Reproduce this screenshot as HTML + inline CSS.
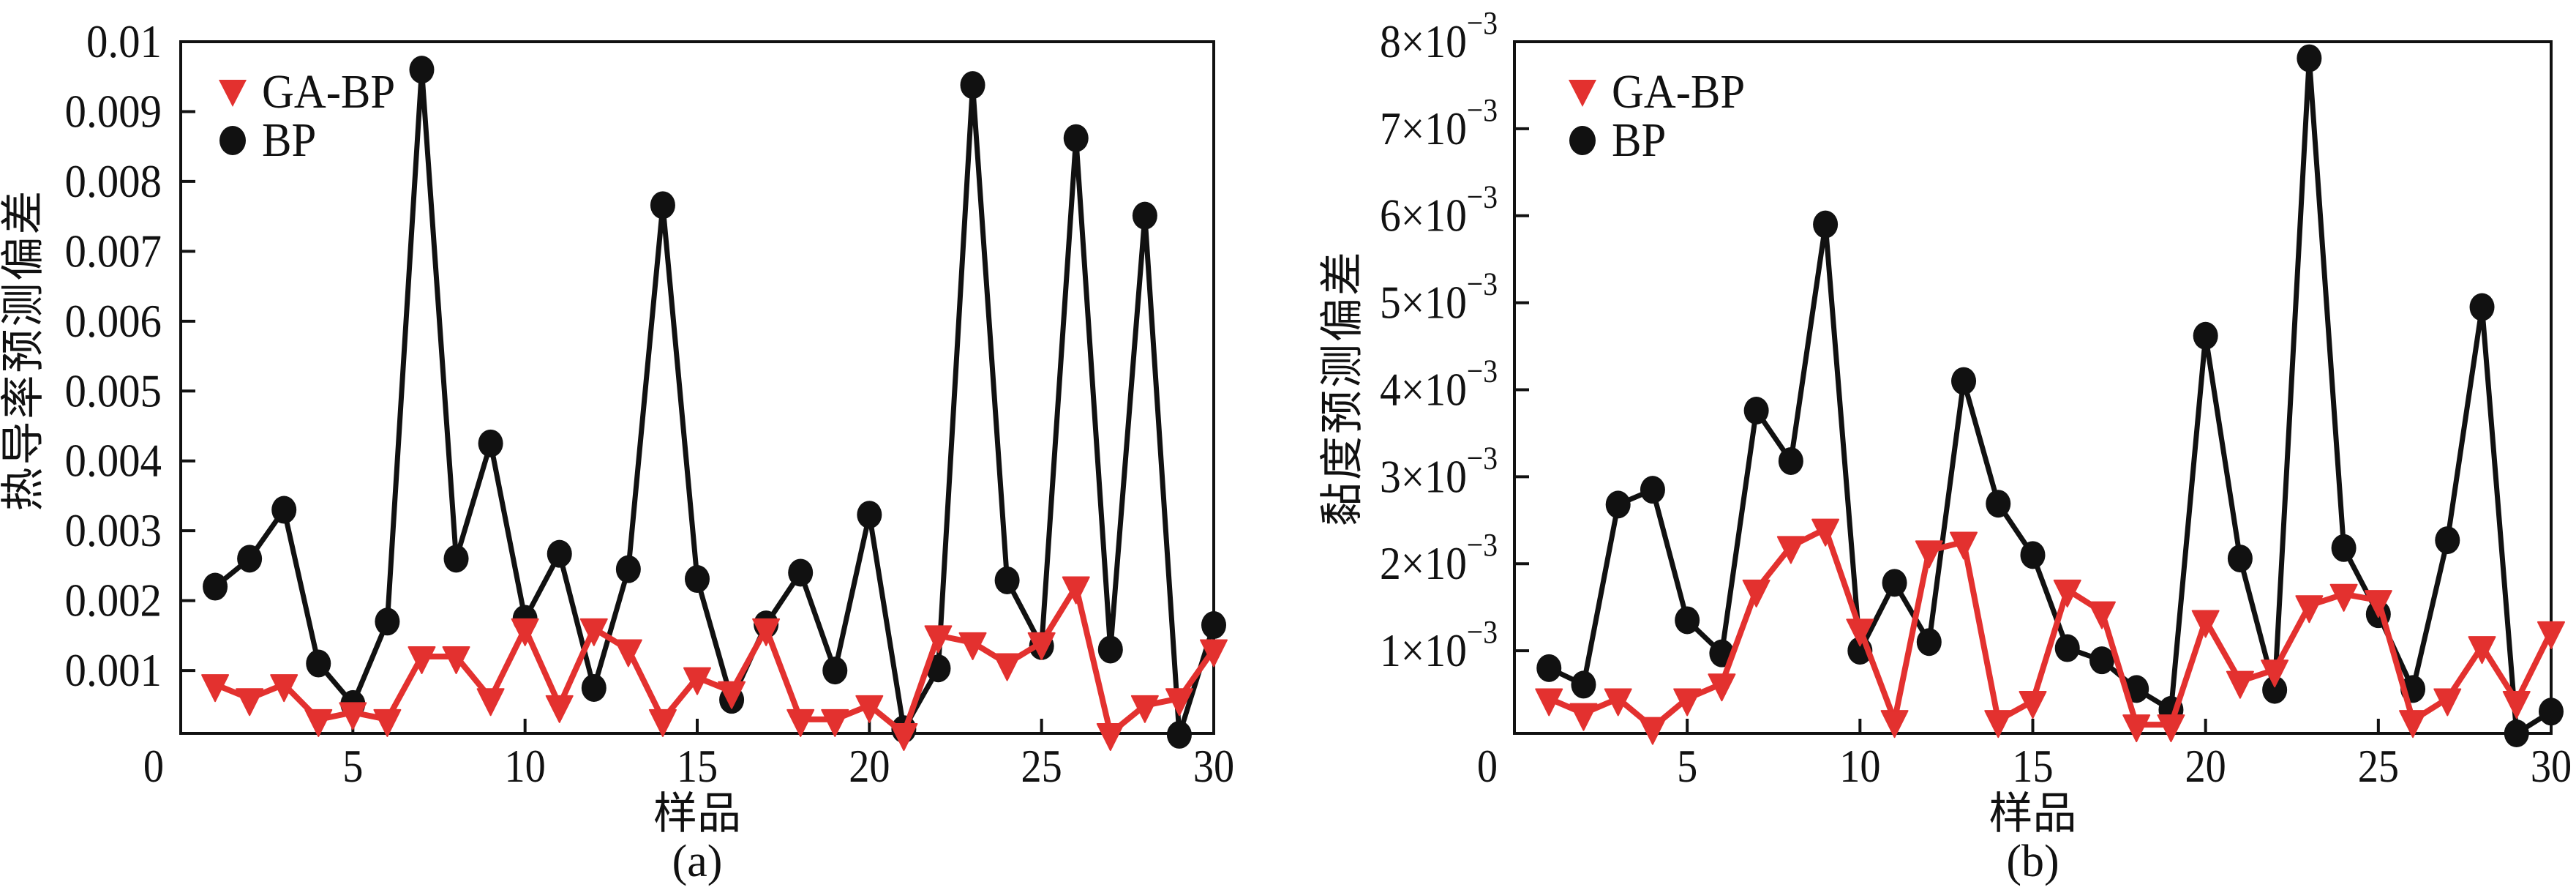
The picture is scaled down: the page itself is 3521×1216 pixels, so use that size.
<!DOCTYPE html>
<html><head><meta charset="utf-8">
<style>
html,body{margin:0;padding:0;background:#fff;}
svg{display:block;}
text{font-family:"Liberation Serif","Noto Serif CJK SC",serif;fill:#111;}
.cjk{font-family:"Liberation Serif","Noto Sans CJK SC",sans-serif;}
</style></head>
<body>
<svg id="fig" width="3521" height="1216" viewBox="0 0 3521 1216" xmlns="http://www.w3.org/2000/svg">
<g id="pa"></g>
<g id="pb"></g>
</svg>
<script>
const samples = [1,2,3,4,5,6,7,8,9,10,11,12,13,14,15,16,17,18,19,20,21,22,23,24,25,26,27,28,29,30];
const aBP = [0.0022,0.0026,0.0033,0.0011,0.00052,0.0017,0.0096,0.0026,0.00425,0.00174,0.00267,0.00075,0.00245,0.00766,0.00231,0.00058,0.00166,0.0024,0.001,0.00323,0.00016,0.00103,0.00938,0.00229,0.00135,0.00862,0.0013,0.00751,0.00008,0.00165];
const aGA = [0.0008,0.0006,0.0008,0.0003,0.0004,0.0003,0.0012,0.0012,0.0006,0.0016,0.0005,0.0016,0.0013,0.0003,0.0009,0.0007,0.0016,0.0003,0.0003,0.0005,0.0001,0.0015,0.0014,0.0011,0.0014,0.0022,0.0001,0.0005,0.0006,0.0013];
const bBP = [0.8e-3,0.61e-3,2.68e-3,2.85e-3,1.35e-3,0.97e-3,3.76e-3,3.18e-3,5.9e-3,1.0e-3,1.78e-3,1.1e-3,4.1e-3,2.69e-3,2.1e-3,1.03e-3,0.89e-3,0.56e-3,0.32e-3,4.62e-3,2.06e-3,0.55e-3,7.81e-3,2.18e-3,1.42e-3,0.56e-3,2.27e-3,4.95e-3,0.05e-3,0.3e-3];
const bGA = [0.45e-3,0.28e-3,0.45e-3,0.12e-3,0.45e-3,0.62e-3,1.7e-3,2.2e-3,2.4e-3,1.25e-3,0.2e-3,2.15e-3,2.25e-3,0.2e-3,0.42e-3,1.7e-3,1.45e-3,0.15e-3,0.15e-3,1.35e-3,0.65e-3,0.78e-3,1.52e-3,1.65e-3,1.58e-3,0.2e-3,0.45e-3,1.05e-3,0.42e-3,1.22e-3];
const xTicks = [0,5,10,15,20,25,30];
const aYTicks = [0.001,0.002,0.003,0.004,0.005,0.006,0.007,0.008,0.009,0.01];
const aYLabels = ["0.001","0.002","0.003","0.004","0.005","0.006","0.007","0.008","0.009","0.01"];
const bYTicks = [1e-3,2e-3,3e-3,4e-3,5e-3,6e-3,7e-3,8e-3];
const bYLabels = ["1","2","3","4","5","6","7","8"];

const NS = "http://www.w3.org/2000/svg";
function mk(parent, tag, attrs, txt){
  const e = document.createElementNS(NS, tag);
  for (const k in attrs) e.setAttribute(k, attrs[k]);
  if (txt !== undefined) e.textContent = txt;
  parent.appendChild(e);
  return e;
}

function drawChart(g, cfg){
  const L=cfg.left, R=cfg.right, T=57, B=1002;
  const sx = v => L + (v - 0) / 30 * (R - L);
  const sy = v => B - (v - cfg.ymin) / (cfg.ymax - cfg.ymin) * (B - T);
  // ticks
  xTicks.forEach((t,i)=>{
    if (t>0 && t<30){
      const tk = mk(g,'line',{x1:sx(t),x2:sx(t),y1:B,y2:B-20,stroke:'#111','stroke-width':4});
      
      
    }
    const xx = t===0 ? L-37 : sx(t);
    const lb = mk(g,'text',{transform:`translate(${xx},1068) scale(0.88,1)`,'text-anchor':'middle','font-size':64}, String(t));
    
    
  });
  cfg.yTicks.forEach((t,i)=>{
    const y = sy(t);
    if (y > T+2){
      const tk = mk(g,'line',{x1:L,x2:L+20,y1:y,y2:y,stroke:'#111','stroke-width':4});
      
      
    }
    let lb;
    if (cfg.sci){
      lb = mk(g,'text',{transform:`translate(${cfg.labelX},${y+21}) scale(0.9,1)`,'text-anchor':'end','font-size':64});
      const t1 = mk(lb,'tspan',{}, cfg.yLabels[i] + '×10');
      const t2 = mk(lb,'tspan',{dy:-32,'font-size':44}, '−3');
    } else {
      lb = mk(g,'text',{transform:`translate(${cfg.labelX},${y+21}) scale(0.92,1)`,'text-anchor':'end','font-size':64}, cfg.yLabels[i]);
    }
    
    
  });
  // frame
  const fr = mk(g,'rect',{x:L,y:T,width:R-L,height:B-T,fill:'none',stroke:'#111','stroke-width':4});
  
  
  // BP line
  const bpPts = samples.map((s,i)=>sx(s)+','+sy(cfg.bp[i])).join(' ');
  const bpl = mk(g,'polyline',{points:bpPts,fill:'none',stroke:'#111','stroke-width':7,'stroke-linejoin':'round'});
  
  
  samples.forEach((s,i)=>{
    const c = mk(g,'ellipse',{cx:sx(s),cy:sy(cfg.bp[i]),rx:17,ry:19,fill:'#111'});
    
    
  });
  // GA line
  const gaPts = samples.map((s,i)=>sx(s)+','+sy(cfg.ga[i])).join(' ');
  const gal = mk(g,'polyline',{points:gaPts,fill:'none',stroke:'#e3312f','stroke-width':8,'stroke-linejoin':'round'});
  
  
  samples.forEach((s,i)=>{
    const x=sx(s), y=sy(cfg.ga[i]);
    const p = mk(g,'polygon',{points:`${x-18},${y-13} ${x+18},${y-13} ${x},${y+23}`,fill:'#e3312f','stroke':'#e3312f','stroke-width':2,'stroke-linejoin':'round'});
    
    
  });
  // legend
  const lx = cfg.legX;
  const lt = mk(g,'polygon',{points:`${lx-19},109 ${lx+19},109 ${lx},146`,fill:'#e3312f'});
  
  
  const ltx = mk(g,'text',{transform:`translate(${lx+40},147) scale(0.92,1)`,'font-size':66},'GA-BP');
  
  
  const lc = mk(g,'ellipse',{cx:lx,cy:192,rx:18,ry:20,fill:'#111'});
  
  
  const lcx = mk(g,'text',{transform:`translate(${lx+40},213) scale(0.92,1)`,'font-size':66},'BP');
  
  
  // axis titles
  const xt = mk(g,'text',{x:(L+R)/2,y:1132,'text-anchor':'middle','font-size':60,'class':'cjk'},'样品');
  
  
  const yt = mk(g,'text',{transform:`translate(${cfg.ytX},${cfg.ytY}) rotate(-90)`,'text-anchor':'middle','font-size':60,'class':'cjk','letter-spacing':3},cfg.ytitle);
  
  
  const cap = mk(g,'text',{x:(L+R)/2,y:1197,'text-anchor':'middle','font-size':62},cfg.caption);
  
  
}

drawChart(document.getElementById('pa'),{left:247,right:1659,ymin:0.0001,ymax:0.01,yTicks:aYTicks,yLabels:aYLabels,sci:false,labelX:221,legX:318,ytitle:'热导率预测偏差',ytX:52,ytY:478,caption:'(a)',bp:aBP,ga:aGA});
drawChart(document.getElementById('pb'),{left:2070,right:3487,ymin:0.00005,ymax:0.008,yTicks:bYTicks,yLabels:bYLabels,sci:true,labelX:2047,legX:2163,ytitle:'黏度预测偏差',ytX:1855,ytY:530,caption:'(b)',bp:bBP,ga:bGA});
</script>
</body></html>
